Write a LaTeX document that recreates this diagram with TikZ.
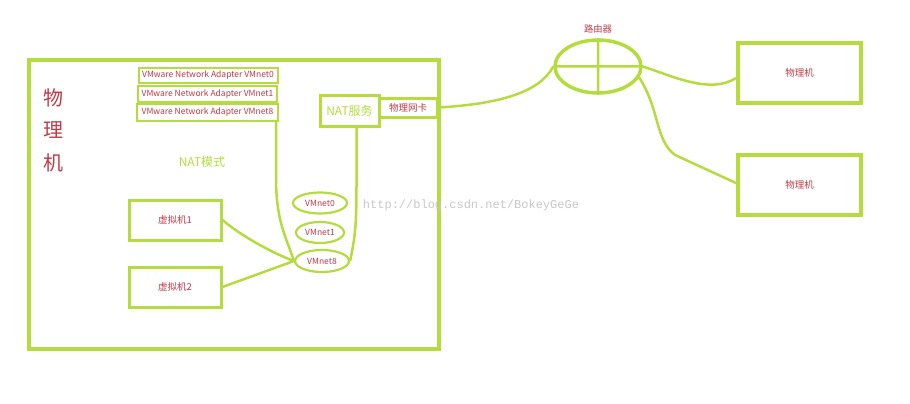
\documentclass[tikz,border=0pt]{standalone}
\usepackage{fontspec}
\setmainfont{Noto Sans CJK SC}
\newfontfamily\wmfont{Liberation Mono}
\usetikzlibrary{positioning,shapes.geometric}
\definecolor{linegreen}{RGB}{180,220,62}
\definecolor{labelred}{RGB}{190,58,70}

\begin{document}
\begin{tikzpicture}[x=1pt,y=-1pt,inner sep=0pt,
    frame/.style={draw=linegreen,line width=3pt,text=labelred,font=\fontsize{9.5}{11}\selectfont},
    adapter/.style={draw=linegreen,line width=2pt,minimum width=139pt,minimum height=15pt,text=labelred,font=\fontsize{8.5}{10}\selectfont},
    net/.style={ellipse,draw=linegreen,line width=2.2pt,text=labelred,font=\fontsize{8.5}{10}\selectfont},
    link/.style={draw=linegreen,line width=2.5pt}]
      \useasboundingbox (0,0) rectangle (910,404);
      % host
      \node[frame,line width=4pt,minimum width=410pt,minimum height=289pt] (h_box) at (234,204.5) {};
      \node[text=labelred,font=\fontsize{20}{32.5}\selectfont,align=center] (h_lbl) at (53,130) {物\\理\\机};
      \node[text=linegreen,font=\fontsize{12}{14}\selectfont] (mode) at (202,162) {NAT模式};
      \node[adapter] (ad_0) at (208,75.5) {VMware Network Adapter VMnet0};
      \node[adapter,minimum height=16pt] (ad_1) at (207.5,94) {VMware Network Adapter VMnet1};
      \node[adapter,minimum width=141pt,minimum height=17pt] (ad_8) at (207.5,112.5) {VMware Network Adapter VMnet8};
      \node[frame,minimum width=59pt,minimum height=31pt,text=linegreen,font=\fontsize{12}{14}\selectfont] (nat) at (349.5,110.5) {NAT服务};
      \node[frame,minimum width=58pt,minimum height=19pt] (nic) at (408,107.5) {物理网卡};
      \node[frame,minimum width=92pt,minimum height=40pt] (vm_1) at (175,220) {虚拟机1};
      \node[frame,minimum width=92pt,minimum height=40pt] (vm_2) at (175,287) {虚拟机2};
      \node[net,minimum width=54pt,minimum height=21pt] (vn_0) at (320,203) {VMnet0};
      \node[net,minimum width=48pt,minimum height=21pt] (vn_1) at (320,232.5) {VMnet1};
      \node[net,minimum width=54pt,minimum height=22pt] (vn_8) at (322,261) {VMnet8};
      % outside
      \node[ellipse,draw=linegreen,line width=3.5pt,minimum width=86pt,minimum height=53pt] (rt) at (598,66.5) {};
      \node[text=labelred,font=\fontsize{9.3}{11}\selectfont] (rt_lbl) at (598,29) {路由器};
      \node[frame,line width=4pt,minimum width=123pt,minimum height=60pt] (pc_1) at (799.5,73) {物理机};
      \node[frame,line width=4pt,minimum width=123pt,minimum height=60pt] (pc_2) at (799.5,185) {物理机};
      \node[text=black!22,font=\wmfont\fontsize{12}{14}\selectfont] (wm) at (471,205) {http://blog.csdn.net/BokeyGeGe};
      \path[link]
      (rt.west) -- (rt.east)
      (rt.north) -- (rt.south)
      (nic.east) .. controls (500,104) and (540,92) .. (rt.west)
      (rt.east) .. controls (670,75) and (710,95) .. ([yshift=-5pt]pc_1.west)
      (rt.-15) .. controls (660,110) and (655,140) .. (675,155) -- ([yshift=2pt]pc_2.west)
      (vm_1.east) .. controls (240,235) and (270,252) .. (vn_8.west)
      (vm_2.east) -- (vn_8.west)
      ([xshift=-3pt]ad_8.south east) -- ++(0,55) .. controls +(0,45) and +(-8,-25) .. (vn_8.west)
      ([xshift=7pt]nat.south) -- ++(0,55) .. controls +(0,45) and +(5,-25) .. (vn_8.east)
      ; %end path
\end{tikzpicture}
\end{document}
